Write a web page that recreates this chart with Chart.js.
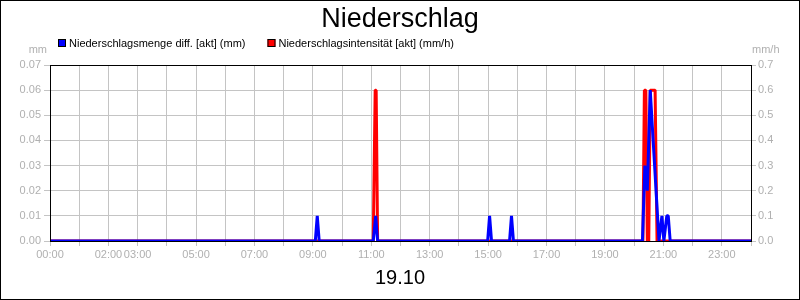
<!DOCTYPE html>
<html>
<head>
<meta charset="utf-8">
<title>Niederschlag</title>
<script src="https://cdn.jsdelivr.net/npm/chart.js@4.4.0/dist/chart.umd.min.js"></script>
<style>
  html, body { margin: 0; padding: 0; background: #fff; }
</style>
</head>
<body>
<canvas id="chartNiederschlag" width="800" height="300"></canvas>
<script>
// === Daten ===
const titel = "Niederschlag";
const datumLabel = "19.10";
const einheitLinks = "mm";
const einheitRechts = "mm/h";

// nur diese Stunden bekommen eine Beschriftung
const stundenLabels = ["00:00", "02:00", "03:00", "05:00", "07:00", "09:00", "11:00",
                       "13:00", "15:00", "17:00", "19:00", "21:00", "23:00"];

// Niederschlagsmenge diff. [akt] (mm)
const mengeLabel = "Niederschlagsmenge diff. [akt] (mm)";
const mengeZeit = ["00:00", "09:05", "09:09", "09:13", "11:04", "11:09", "11:13",
                   "14:59", "15:03", "15:07", "15:44", "15:48", "15:52",
                   "20:17", "20:22", "20:27", "20:33", "20:51", "20:57", "21:01",
                   "21:07", "21:10", "21:14", "24:00"];
const mengeWert = [0, 0, 0.01, 0, 0, 0.01, 0,
                   0, 0.01, 0, 0, 0.01, 0,
                   0, 0.03, 0.02, 0.06, 0, 0.01, 0,
                   0.01, 0.01, 0, 0];

// Niederschlagsintensität [akt] (mm/h)
const intensLabel = "Niederschlagsintensität [akt] (mm/h)";
const intensZeit = ["00:00", "11:04", "11:08", "11:10", "11:13",
                    "20:18", "20:21", "20:24", "20:27", "20:30", "20:33", "20:43", "20:47", "24:00"];
const intensWert = [0, 0, 0.6, 0.6, 0,
                    0, 0.6, 0.6, 0, 0, 0.6, 0.6, 0, 0];

// === Hilfsfunktionen ===
function zuMinuten(hhmm) {
  const teile = hhmm.split(":");
  return parseInt(teile[0]) * 60 + parseInt(teile[1]);
}

function zuText(minuten) {
  const h = Math.floor(minuten / 60);
  const m = minuten % 60;
  return String(h).padStart(2, "0") + ":" + String(m).padStart(2, "0");
}

function punkte(zeiten, werte) {
  return zeiten.map((z, i) => ({ x: zuMinuten(z), y: werte[i] }));
}

const schrift = '"Liberation Sans", Arial, sans-serif';
const grau = "#b0b0b0";
const gitter = "#c4c4c4";

Chart.defaults.font.family = schrift;

// Titel, Legende, Einheiten, Datum und Rahmen
const rahmenPlugin = {
  id: "rahmen",
  afterDraw(chart) {
    const ctx = chart.ctx;
    const a = chart.chartArea;
    ctx.save();

    // Rahmen des Diagrammbereichs
    ctx.strokeStyle = "#000";
    ctx.lineWidth = 1;
    ctx.strokeRect(a.left + 0.5, a.top + 0.5, a.right - a.left, a.bottom - a.top);

    // Rahmen des Bildes
    ctx.strokeRect(0.5, 0.5, chart.width - 1, chart.height - 1);

    // Titel
    ctx.fillStyle = "#000";
    ctx.textAlign = "center";
    ctx.textBaseline = "alphabetic";
    ctx.font = "27px " + schrift;
    ctx.fillText(titel, 400, 27);

    // Datum unter der x-Achse
    ctx.font = "20px " + schrift;
    ctx.fillText(datumLabel, 400, 284);

    // Legende
    ctx.font = "11px " + schrift;
    ctx.textAlign = "left";
    let x = 58;
    chart.data.datasets.forEach(ds => {
      ctx.fillStyle = ds.borderColor;
      ctx.fillRect(x, 39, 8, 8);
      ctx.strokeStyle = "#000";
      ctx.strokeRect(x + 0.5, 39.5, 7, 7);
      ctx.fillStyle = "#000";
      ctx.fillText(ds.label, x + 11, 47);
      x += 11 + ctx.measureText(ds.label).width + 22;
    });

    // Einheiten
    ctx.fillStyle = grau;
    ctx.textAlign = "right";
    ctx.fillText(einheitLinks, 47, 53);
    ctx.textAlign = "left";
    ctx.fillText(einheitRechts, 752, 53);

    ctx.restore();
  }
};

// === Chart ===
const ctx = document.getElementById("chartNiederschlag").getContext("2d");
const chartNiederschlag = new Chart(ctx, {
  type: "line",
  data: {
    datasets: [
      {
        label: mengeLabel,
        data: punkte(mengeZeit, mengeWert),
        borderColor: "#0000ff",
        backgroundColor: "#0000ff",
        borderWidth: 3,
        borderJoinStyle: "bevel",
        pointRadius: 0,
        tension: 0,
        clip: { left: 2, top: 2, right: 2, bottom: 0 },
        yAxisID: "y"
      },
      {
        label: intensLabel,
        data: punkte(intensZeit, intensWert),
        borderColor: "#ff0000",
        backgroundColor: "#ff0000",
        borderWidth: 3,
        borderJoinStyle: "bevel",
        pointRadius: 0,
        tension: 0,
        clip: { left: 2, top: 2, right: 2, bottom: 0 },
        yAxisID: "y1"
      }
    ]
  },
  options: {
    responsive: false,
    animation: false,
    devicePixelRatio: 1,
    layout: { padding: { top: 65, left: 0, right: 0, bottom: 0 } },
    plugins: {
      legend: { display: false },
      title: { display: false },
      tooltip: { enabled: false }
    },
    scales: {
      x: {
        type: "linear",
        min: 0,
        max: 1440,
        afterFit: s => { s.height = 59; },
        ticks: {
          stepSize: 60,
          autoSkip: false,
          maxRotation: 0,
          padding: 2,
          color: grau,
          font: { size: 11 },
          callback: v => {
            const t = zuText(v);
            return stundenLabels.includes(t) ? t : "";
          }
        },
        grid: { color: gitter, tickLength: 5 },
        border: { color: "#000" }
      },
      y: {
        position: "left",
        min: 0,
        max: 0.07,
        afterFit: s => { s.width = 50; },
        ticks: {
          stepSize: 0.01,
          padding: 3,
          color: grau,
          font: { size: 11 },
          callback: v => v.toFixed(2)
        },
        grid: { color: gitter, tickLength: 6 },
        border: { color: "#000" }
      },
      y1: {
        position: "right",
        min: 0,
        max: 0.7,
        afterFit: s => { s.width = 49; },
        ticks: {
          stepSize: 0.1,
          padding: 2,
          color: grau,
          font: { size: 11 },
          callback: v => v.toFixed(1)
        },
        grid: { drawOnChartArea: false, color: gitter, tickLength: 5 },
        border: { color: "#000" }
      }
    }
  },
  plugins: [rahmenPlugin]
});
</script>
</body>
</html>
